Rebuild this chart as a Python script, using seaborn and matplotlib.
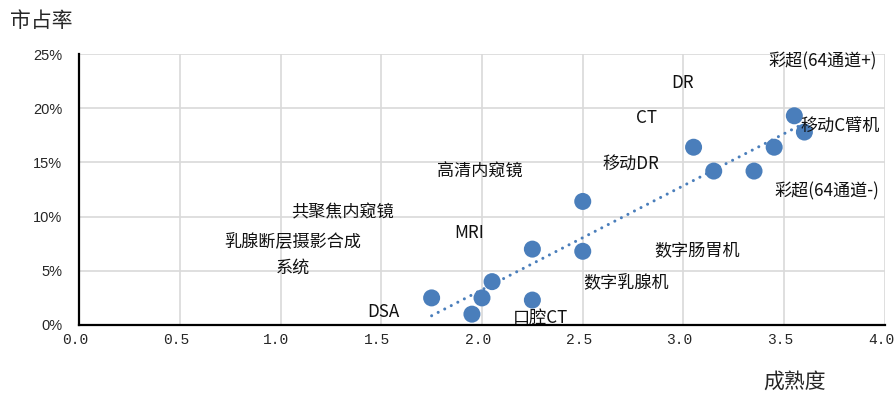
import matplotlib
matplotlib.use("Agg")
import matplotlib.pyplot as plt
import matplotlib.ticker as mticker
import matplotlib.transforms as mtransforms
import pandas as pd
import seaborn as sns

# Product categories, maturity score and market share (%)
products = ["彩超(64通道+)", "DR", "CT", "移动C臂机", "移动DR", "高清内窥镜",
            "彩超(64通道-)", "共聚焦内窥镜", "MRI", "数字肠胃机",
            "乳腺断层摄影合成\n系统", "数字乳腺机", "DSA", "口腔CT"]
maturity = [3.55, 3.60, 3.05, 3.45, 3.15, 3.35, 2.50, 2.25, 2.50, 2.05,
            2.00, 1.75, 2.25, 1.95]
share = [19.3, 17.8, 16.4, 16.4, 14.2, 14.2, 11.4, 7.0, 6.8, 4.0,
         2.5, 2.5, 2.3, 1.0]

x_ticks = [0.0, 0.5, 1.0, 1.5, 2.0, 2.5, 3.0, 3.5, 4.0]
y_ticks = [0, 5, 10, 15, 20, 25]

# Where each product name is written on the chart (data coordinates)
label_xy = [(3.692, 24.31), (2.994, 22.37), (2.817, 19.14), (3.777, 18.37),
            (2.741, 14.87), (1.990, 14.13), (3.712, 12.37), (1.310, 10.34),
            (1.934, 8.47), (3.067, 6.93), (1.062, 6.46), (2.715, 3.85),
            (1.509, 1.17), (2.291, 0.62)]

df = pd.DataFrame({"product": products, "maturity": maturity, "share": share})

sns.set_style("white")
plt.rcParams["font.family"] = ["Noto Sans CJK SC", "DejaVu Sans"]

BLUE = "#4a7ebb"
GRID = "#d9d9d9"

fig = plt.figure(figsize=(8.95, 3.93), dpi=100)
ax = fig.add_axes([79 / 895, 68 / 393, 806 / 895, 271 / 393])

# Linear trend, dotted
sns.regplot(data=df, x="maturity", y="share", scatter=False, ci=None,
            truncate=True, ax=ax, color=BLUE,
            line_kws=dict(lw=2.2, linestyle=(0, (0.01, 2.4)),
                          dash_capstyle="round", zorder=3))
sns.scatterplot(data=df, x="maturity", y="share", ax=ax, color=BLUE,
                s=150, edgecolor="none", zorder=4, legend=False)

for name, (lx, ly) in zip(products, label_xy):
    ax.text(lx, ly, name, ha="center", va="center", fontsize=12.3,
            color="#111111", linespacing=1.6, zorder=5)

ax.set_xlim(0, 4)
ax.set_ylim(0, 25)
ax.set_xticks(x_ticks)
ax.set_yticks(y_ticks)
ax.xaxis.set_major_formatter(mticker.FuncFormatter(lambda v, _: f"{v:.1f}"))
ax.yaxis.set_major_formatter(mticker.FuncFormatter(lambda v, _: f"{v:.0f}%"))

ax.grid(True, color=GRID, lw=1.2, zorder=0)
ax.set_axisbelow(True)
for side in ("top", "right"):
    ax.spines[side].set_visible(False)
for side in ("left", "bottom"):
    ax.spines[side].set_color("black")
    ax.spines[side].set_linewidth(1.6)

ax.tick_params(axis="both", direction="in", length=4, width=1.6, color="black")
ax.tick_params(axis="x", pad=6)
ax.tick_params(axis="y", pad=12)
shift = mtransforms.ScaledTranslation(-4 / 100, 0, fig.dpi_scale_trans)
for t in ax.get_xticklabels():
    t.set_fontfamily("Liberation Mono")
    t.set_fontsize(10.5)
    t.set_transform(t.get_transform() + shift)
for t in ax.get_yticklabels():
    t.set_fontfamily("Liberation Sans")
    t.set_fontsize(10.5)

ax.set_xlabel("")
ax.set_ylabel("")
fig.text(10 / 895, 1 - 21 / 393, "市占率", fontsize=15, ha="left", va="center")
fig.text(795 / 895, 1 - 382 / 393, "成熟度", fontsize=15, ha="center", va="center")

fig.savefig("out.png", dpi=100)
